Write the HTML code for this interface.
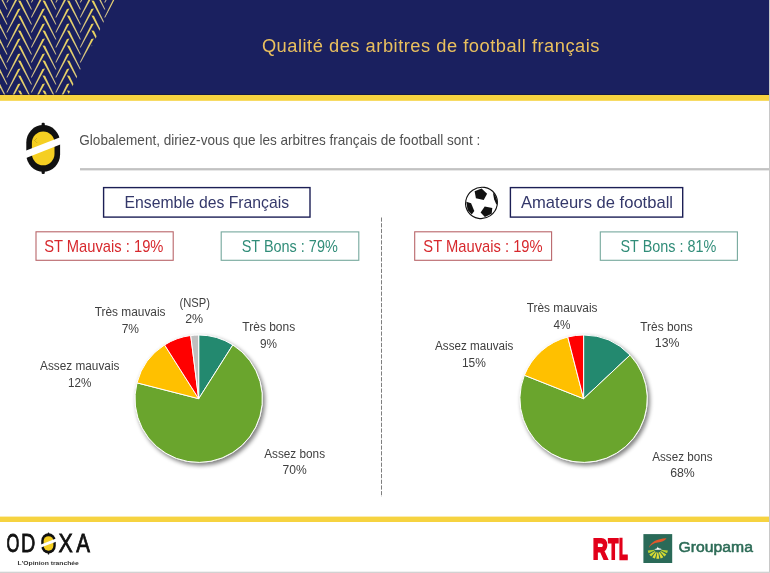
<!DOCTYPE html>
<html lang="fr"><head><meta charset="utf-8"><title>Qualité des arbitres de football français</title>
<style>html,body{margin:0;padding:0;background:#fff;overflow:hidden;}svg{display:block;}text{font-family:"Liberation Sans",sans-serif;}</style>
</head><body>
<svg width="770" height="573" viewBox="0 0 770 573">
<defs>
<clipPath id="hb"><polygon points="0,0 114.3,0 68.5,94.5 0,94.5"/></clipPath>
<filter id="sh" x="-20%" y="-20%" width="140%" height="140%"><feGaussianBlur stdDeviation="1.9"/></filter>
<linearGradient id="gs" x1="0" y1="0" x2="0" y2="1"><stop offset="0" stop-color="#ecd45a"/><stop offset="1" stop-color="#cfc092"/></linearGradient>
</defs>
<rect width="770" height="573" fill="#fff"/>
<rect x="0" y="0" width="769" height="95" fill="#1a205f"/>
<rect x="0" y="94.9" width="769" height="5.9" fill="#f6d340"/>
<rect x="0" y="94.3" width="769" height="0.7" fill="#0d1038"/>
<g clip-path="url(#hb)" fill="url(#gs)">
<polygon points="-6.40,-29.60 -3.90,-29.30 7.55,-5.60 6.55,-5.60"/>
<polygon points="-6.40,-21.10 -3.90,-21.40 -17.05,2.60 -18.05,2.60"/>
<polygon points="-6.40,-14.60 -3.90,-14.30 7.55,9.40 6.55,9.40"/>
<polygon points="-6.40,-6.10 -3.90,-6.40 -17.05,17.60 -18.05,17.60"/>
<polygon points="-6.40,0.40 -3.90,0.70 7.55,24.40 6.55,24.40"/>
<polygon points="-6.40,8.90 -3.90,8.60 -17.05,32.60 -18.05,32.60"/>
<polygon points="-6.40,15.40 -3.90,15.70 7.55,39.40 6.55,39.40"/>
<polygon points="-6.40,23.90 -3.90,23.60 -17.05,47.60 -18.05,47.60"/>
<polygon points="-6.40,30.40 -3.90,30.70 7.55,54.40 6.55,54.40"/>
<polygon points="-6.40,38.90 -3.90,38.60 -17.05,62.60 -18.05,62.60"/>
<polygon points="-6.40,45.40 -3.90,45.70 7.55,69.40 6.55,69.40"/>
<polygon points="-6.40,53.90 -3.90,53.60 -17.05,77.60 -18.05,77.60"/>
<polygon points="-6.40,60.40 -3.90,60.70 7.55,84.40 6.55,84.40"/>
<polygon points="-6.40,68.90 -3.90,68.60 -17.05,92.60 -18.05,92.60"/>
<polygon points="-6.40,75.40 -3.90,75.70 7.55,99.40 6.55,99.40"/>
<polygon points="-6.40,83.90 -3.90,83.60 -17.05,107.60 -18.05,107.60"/>
<polygon points="-6.40,90.40 -3.90,90.70 7.55,114.40 6.55,114.40"/>
<polygon points="-6.40,98.90 -3.90,98.60 -17.05,122.60 -18.05,122.60"/>
<polygon points="-6.40,105.40 -3.90,105.70 7.55,129.40 6.55,129.40"/>
<polygon points="-6.40,113.90 -3.90,113.60 -17.05,137.60 -18.05,137.60"/>
<polygon points="18.05,-29.60 20.55,-29.30 32.00,-5.60 31.00,-5.60"/>
<polygon points="18.05,-21.10 20.55,-21.40 7.40,2.60 6.40,2.60"/>
<polygon points="18.05,-14.60 20.55,-14.30 32.00,9.40 31.00,9.40"/>
<polygon points="18.05,-6.10 20.55,-6.40 7.40,17.60 6.40,17.60"/>
<polygon points="18.05,0.40 20.55,0.70 32.00,24.40 31.00,24.40"/>
<polygon points="18.05,8.90 20.55,8.60 7.40,32.60 6.40,32.60"/>
<polygon points="18.05,15.40 20.55,15.70 32.00,39.40 31.00,39.40"/>
<polygon points="18.05,23.90 20.55,23.60 7.40,47.60 6.40,47.60"/>
<polygon points="18.05,30.40 20.55,30.70 32.00,54.40 31.00,54.40"/>
<polygon points="18.05,38.90 20.55,38.60 7.40,62.60 6.40,62.60"/>
<polygon points="18.05,45.40 20.55,45.70 32.00,69.40 31.00,69.40"/>
<polygon points="18.05,53.90 20.55,53.60 7.40,77.60 6.40,77.60"/>
<polygon points="18.05,60.40 20.55,60.70 32.00,84.40 31.00,84.40"/>
<polygon points="18.05,68.90 20.55,68.60 7.40,92.60 6.40,92.60"/>
<polygon points="18.05,75.40 20.55,75.70 32.00,99.40 31.00,99.40"/>
<polygon points="18.05,83.90 20.55,83.60 7.40,107.60 6.40,107.60"/>
<polygon points="18.05,90.40 20.55,90.70 32.00,114.40 31.00,114.40"/>
<polygon points="18.05,98.90 20.55,98.60 7.40,122.60 6.40,122.60"/>
<polygon points="18.05,105.40 20.55,105.70 32.00,129.40 31.00,129.40"/>
<polygon points="18.05,113.90 20.55,113.60 7.40,137.60 6.40,137.60"/>
<polygon points="42.50,-29.60 45.00,-29.30 56.45,-5.60 55.45,-5.60"/>
<polygon points="42.50,-21.10 45.00,-21.40 31.85,2.60 30.85,2.60"/>
<polygon points="42.50,-14.60 45.00,-14.30 56.45,9.40 55.45,9.40"/>
<polygon points="42.50,-6.10 45.00,-6.40 31.85,17.60 30.85,17.60"/>
<polygon points="42.50,0.40 45.00,0.70 56.45,24.40 55.45,24.40"/>
<polygon points="42.50,8.90 45.00,8.60 31.85,32.60 30.85,32.60"/>
<polygon points="42.50,15.40 45.00,15.70 56.45,39.40 55.45,39.40"/>
<polygon points="42.50,23.90 45.00,23.60 31.85,47.60 30.85,47.60"/>
<polygon points="42.50,30.40 45.00,30.70 56.45,54.40 55.45,54.40"/>
<polygon points="42.50,38.90 45.00,38.60 31.85,62.60 30.85,62.60"/>
<polygon points="42.50,45.40 45.00,45.70 56.45,69.40 55.45,69.40"/>
<polygon points="42.50,53.90 45.00,53.60 31.85,77.60 30.85,77.60"/>
<polygon points="42.50,60.40 45.00,60.70 56.45,84.40 55.45,84.40"/>
<polygon points="42.50,68.90 45.00,68.60 31.85,92.60 30.85,92.60"/>
<polygon points="42.50,75.40 45.00,75.70 56.45,99.40 55.45,99.40"/>
<polygon points="42.50,83.90 45.00,83.60 31.85,107.60 30.85,107.60"/>
<polygon points="42.50,90.40 45.00,90.70 56.45,114.40 55.45,114.40"/>
<polygon points="42.50,98.90 45.00,98.60 31.85,122.60 30.85,122.60"/>
<polygon points="42.50,105.40 45.00,105.70 56.45,129.40 55.45,129.40"/>
<polygon points="42.50,113.90 45.00,113.60 31.85,137.60 30.85,137.60"/>
<polygon points="66.95,-29.60 69.45,-29.30 80.90,-5.60 79.90,-5.60"/>
<polygon points="66.95,-21.10 69.45,-21.40 56.30,2.60 55.30,2.60"/>
<polygon points="66.95,-14.60 69.45,-14.30 80.90,9.40 79.90,9.40"/>
<polygon points="66.95,-6.10 69.45,-6.40 56.30,17.60 55.30,17.60"/>
<polygon points="66.95,0.40 69.45,0.70 80.90,24.40 79.90,24.40"/>
<polygon points="66.95,8.90 69.45,8.60 56.30,32.60 55.30,32.60"/>
<polygon points="66.95,15.40 69.45,15.70 80.90,39.40 79.90,39.40"/>
<polygon points="66.95,23.90 69.45,23.60 56.30,47.60 55.30,47.60"/>
<polygon points="66.95,30.40 69.45,30.70 80.90,54.40 79.90,54.40"/>
<polygon points="66.95,38.90 69.45,38.60 56.30,62.60 55.30,62.60"/>
<polygon points="66.95,45.40 69.45,45.70 80.90,69.40 79.90,69.40"/>
<polygon points="66.95,53.90 69.45,53.60 56.30,77.60 55.30,77.60"/>
<polygon points="66.95,60.40 69.45,60.70 80.90,84.40 79.90,84.40"/>
<polygon points="66.95,68.90 69.45,68.60 56.30,92.60 55.30,92.60"/>
<polygon points="66.95,75.40 69.45,75.70 80.90,99.40 79.90,99.40"/>
<polygon points="66.95,83.90 69.45,83.60 56.30,107.60 55.30,107.60"/>
<polygon points="66.95,90.40 69.45,90.70 80.90,114.40 79.90,114.40"/>
<polygon points="66.95,98.90 69.45,98.60 56.30,122.60 55.30,122.60"/>
<polygon points="66.95,105.40 69.45,105.70 80.90,129.40 79.90,129.40"/>
<polygon points="66.95,113.90 69.45,113.60 56.30,137.60 55.30,137.60"/>
<polygon points="91.40,-29.60 93.90,-29.30 105.35,-5.60 104.35,-5.60"/>
<polygon points="91.40,-21.10 93.90,-21.40 80.75,2.60 79.75,2.60"/>
<polygon points="91.40,-14.60 93.90,-14.30 105.35,9.40 104.35,9.40"/>
<polygon points="91.40,-6.10 93.90,-6.40 80.75,17.60 79.75,17.60"/>
<polygon points="91.40,0.40 93.90,0.70 105.35,24.40 104.35,24.40"/>
<polygon points="91.40,8.90 93.90,8.60 80.75,32.60 79.75,32.60"/>
<polygon points="91.40,15.40 93.90,15.70 105.35,39.40 104.35,39.40"/>
<polygon points="91.40,23.90 93.90,23.60 80.75,47.60 79.75,47.60"/>
<polygon points="91.40,30.40 93.90,30.70 105.35,54.40 104.35,54.40"/>
<polygon points="91.40,38.90 93.90,38.60 80.75,62.60 79.75,62.60"/>
<polygon points="91.40,45.40 93.90,45.70 105.35,69.40 104.35,69.40"/>
<polygon points="91.40,53.90 93.90,53.60 80.75,77.60 79.75,77.60"/>
<polygon points="91.40,60.40 93.90,60.70 105.35,84.40 104.35,84.40"/>
<polygon points="91.40,68.90 93.90,68.60 80.75,92.60 79.75,92.60"/>
<polygon points="91.40,75.40 93.90,75.70 105.35,99.40 104.35,99.40"/>
<polygon points="91.40,83.90 93.90,83.60 80.75,107.60 79.75,107.60"/>
<polygon points="91.40,90.40 93.90,90.70 105.35,114.40 104.35,114.40"/>
<polygon points="91.40,98.90 93.90,98.60 80.75,122.60 79.75,122.60"/>
<polygon points="91.40,105.40 93.90,105.70 105.35,129.40 104.35,129.40"/>
<polygon points="91.40,113.90 93.90,113.60 80.75,137.60 79.75,137.60"/>
<polygon points="115.85,-29.60 118.35,-29.30 129.80,-5.60 128.80,-5.60"/>
<polygon points="115.85,-21.10 118.35,-21.40 105.20,2.60 104.20,2.60"/>
<polygon points="115.85,-14.60 118.35,-14.30 129.80,9.40 128.80,9.40"/>
<polygon points="115.85,-6.10 118.35,-6.40 105.20,17.60 104.20,17.60"/>
<polygon points="115.85,0.40 118.35,0.70 129.80,24.40 128.80,24.40"/>
<polygon points="115.85,8.90 118.35,8.60 105.20,32.60 104.20,32.60"/>
<polygon points="115.85,15.40 118.35,15.70 129.80,39.40 128.80,39.40"/>
<polygon points="115.85,23.90 118.35,23.60 105.20,47.60 104.20,47.60"/>
<polygon points="115.85,30.40 118.35,30.70 129.80,54.40 128.80,54.40"/>
<polygon points="115.85,38.90 118.35,38.60 105.20,62.60 104.20,62.60"/>
<polygon points="115.85,45.40 118.35,45.70 129.80,69.40 128.80,69.40"/>
<polygon points="115.85,53.90 118.35,53.60 105.20,77.60 104.20,77.60"/>
<polygon points="115.85,60.40 118.35,60.70 129.80,84.40 128.80,84.40"/>
<polygon points="115.85,68.90 118.35,68.60 105.20,92.60 104.20,92.60"/>
<polygon points="115.85,75.40 118.35,75.70 129.80,99.40 128.80,99.40"/>
<polygon points="115.85,83.90 118.35,83.60 105.20,107.60 104.20,107.60"/>
<polygon points="115.85,90.40 118.35,90.70 129.80,114.40 128.80,114.40"/>
<polygon points="115.85,98.90 118.35,98.60 105.20,122.60 104.20,122.60"/>
<polygon points="115.85,105.40 118.35,105.70 129.80,129.40 128.80,129.40"/>
<polygon points="115.85,113.90 118.35,113.60 105.20,137.60 104.20,137.60"/>
<polygon points="140.30,-29.60 142.80,-29.30 154.25,-5.60 153.25,-5.60"/>
<polygon points="140.30,-21.10 142.80,-21.40 129.65,2.60 128.65,2.60"/>
<polygon points="140.30,-14.60 142.80,-14.30 154.25,9.40 153.25,9.40"/>
<polygon points="140.30,-6.10 142.80,-6.40 129.65,17.60 128.65,17.60"/>
<polygon points="140.30,0.40 142.80,0.70 154.25,24.40 153.25,24.40"/>
<polygon points="140.30,8.90 142.80,8.60 129.65,32.60 128.65,32.60"/>
<polygon points="140.30,15.40 142.80,15.70 154.25,39.40 153.25,39.40"/>
<polygon points="140.30,23.90 142.80,23.60 129.65,47.60 128.65,47.60"/>
<polygon points="140.30,30.40 142.80,30.70 154.25,54.40 153.25,54.40"/>
<polygon points="140.30,38.90 142.80,38.60 129.65,62.60 128.65,62.60"/>
<polygon points="140.30,45.40 142.80,45.70 154.25,69.40 153.25,69.40"/>
<polygon points="140.30,53.90 142.80,53.60 129.65,77.60 128.65,77.60"/>
<polygon points="140.30,60.40 142.80,60.70 154.25,84.40 153.25,84.40"/>
<polygon points="140.30,68.90 142.80,68.60 129.65,92.60 128.65,92.60"/>
<polygon points="140.30,75.40 142.80,75.70 154.25,99.40 153.25,99.40"/>
<polygon points="140.30,83.90 142.80,83.60 129.65,107.60 128.65,107.60"/>
<polygon points="140.30,90.40 142.80,90.70 154.25,114.40 153.25,114.40"/>
<polygon points="140.30,98.90 142.80,98.60 129.65,122.60 128.65,122.60"/>
<polygon points="140.30,105.40 142.80,105.70 154.25,129.40 153.25,129.40"/>
<polygon points="140.30,113.90 142.80,113.60 129.65,137.60 128.65,137.60"/>
</g>
<text x="261.88" y="52.20" font-size="18.3" fill="#eac05e" textLength="337.61" lengthAdjust="spacing">Qualité des arbitres de football français</text>
<text x="79.32" y="145.00" font-size="14.3" fill="#505050" textLength="400.91" lengthAdjust="spacingAndGlyphs">Globalement, diriez-vous que les arbitres français de football sont :</text>
<rect x="80" y="168.1" width="689" height="2.3" fill="#c2c2c2"/>
<rect x="769" y="0" width="1" height="573" fill="#c8c8c8"/>
<rect x="0" y="571.7" width="770" height="1.3" fill="#d2d2d2"/>
<g transform="translate(43.2,148.4) scale(1)">
<rect x="-1.6" y="-25.6" width="3.2" height="51.2" rx="1.2" fill="#111"/>
<rect x="-16.9" y="-23.4" width="33.8" height="46.8" rx="16.9" ry="17.5" fill="#111"/>
<rect x="-11.3" y="-16.9" width="22.6" height="33.8" rx="11.3" ry="11.5" fill="#f5cf22"/>
<polygon points="-19,2.9 19,-12.0 19,-4.6 -19,10.3" fill="#fff"/>
</g>
<g fill="#7a6a18" opacity="0.75"><circle cx="36.6" cy="138.6" r="0.45"/><circle cx="34.6" cy="140.4" r="0.45"/><circle cx="36.8" cy="142.4" r="0.45"/><circle cx="35.6" cy="139.5" r="0.4"/><circle cx="35.7" cy="141.4" r="0.4"/></g>
<rect x="103.6" y="187.6" width="206.4" height="29.5" fill="#fff" stroke="#1c1f55" stroke-width="1.4"/>
<text x="124.54" y="207.80" font-size="16.1" fill="#34386a" textLength="164.48" lengthAdjust="spacingAndGlyphs">Ensemble des Français</text>
<rect x="510.4" y="187.6" width="172.30000000000007" height="29.5" fill="#fff" stroke="#1c1f55" stroke-width="1.4"/>
<text x="521.00" y="207.80" font-size="16.1" fill="#34386a" textLength="152.03" lengthAdjust="spacingAndGlyphs">Amateurs de football</text>
<rect x="36.0" y="231.8" width="137.2" height="28.5" fill="#fff" stroke="#b9666a" stroke-width="1.1"/>
<text x="44.16" y="251.80" font-size="15.9" fill="#d7282d" textLength="119.27" lengthAdjust="spacingAndGlyphs">ST Mauvais : 19%</text>
<rect x="221.2" y="231.9" width="137.60000000000002" height="28.400000000000006" fill="#fff" stroke="#76a89d" stroke-width="1.1"/>
<text x="241.68" y="251.80" font-size="15.9" fill="#318d79" textLength="96.08" lengthAdjust="spacingAndGlyphs">ST Bons : 79%</text>
<rect x="414.7" y="231.8" width="136.90000000000003" height="28.5" fill="#fff" stroke="#b9666a" stroke-width="1.1"/>
<text x="423.36" y="251.80" font-size="15.9" fill="#d7282d" textLength="119.27" lengthAdjust="spacingAndGlyphs">ST Mauvais : 19%</text>
<rect x="600.3" y="231.9" width="137.10000000000002" height="28.400000000000006" fill="#fff" stroke="#76a89d" stroke-width="1.1"/>
<text x="620.48" y="251.80" font-size="15.9" fill="#318d79" textLength="95.88" lengthAdjust="spacingAndGlyphs">ST Bons : 81%</text>
<line x1="381.5" y1="217.5" x2="381.5" y2="497" stroke="#7f7f7f" stroke-width="1" stroke-dasharray="4.2 1.5"/>
<g transform="translate(481.5,202.9)">
<ellipse rx="16.1" ry="15.5" fill="#fff" stroke="#111" stroke-width="1.1" transform="rotate(-35)"/>
<polygon points="-6.9,-11.6 0.1,-14.4 5.6,-9.2 2.2,-3.0 -5.6,-4.6" fill="#111"/>
<polygon points="-15.2,-1.2 -10.4,0.3 -7.2,8.2 -9.8,11.6 -13.9,7.0" fill="#111"/>
<polygon points="-0.9,9.6 3.2,3.6 10.8,5.0 10.2,10.8 3.4,14.0" fill="#111"/>
<polygon points="11.4,-10.2 13.6,-8.2 15.6,-2.4 16.0,1.8 14.6,1.2 12.6,-3.6" fill="#111"/>
</g>
<circle cx="200.7" cy="401.09999999999997" r="64.3" fill="#000" opacity="0.5" filter="url(#sh)"/>
<circle cx="198.7" cy="398.7" r="64.15" fill="#fff"/>
<path d="M198.7,398.7 L198.70,335.00 A63.7,63.7 0 0 1 232.83,344.92 Z" fill="#23896f" stroke="#fff" stroke-width="1" stroke-linejoin="round"/>
<path d="M198.7,398.7 L232.83,344.92 A63.7,63.7 0 1 1 137.00,382.86 Z" fill="#6aa52d" stroke="#fff" stroke-width="1" stroke-linejoin="round"/>
<path d="M198.7,398.7 L137.00,382.86 A63.7,63.7 0 0 1 164.57,344.92 Z" fill="#ffc000" stroke="#fff" stroke-width="1" stroke-linejoin="round"/>
<path d="M198.7,398.7 L164.57,344.92 A63.7,63.7 0 0 1 190.72,335.50 Z" fill="#ff0000" stroke="#fff" stroke-width="1" stroke-linejoin="round"/>
<path d="M198.7,398.7 L190.72,335.50 A63.7,63.7 0 0 1 198.70,335.00 Z" fill="#bfbfbf" stroke="#fff" stroke-width="1" stroke-linejoin="round"/>
<circle cx="585.6" cy="401.09999999999997" r="64.3" fill="#000" opacity="0.5" filter="url(#sh)"/>
<circle cx="583.6" cy="398.7" r="64.15" fill="#fff"/>
<path d="M583.6,398.7 L583.60,335.00 A63.7,63.7 0 0 1 630.04,355.09 Z" fill="#23896f" stroke="#fff" stroke-width="1" stroke-linejoin="round"/>
<path d="M583.6,398.7 L630.04,355.09 A63.7,63.7 0 1 1 524.37,375.25 Z" fill="#6aa52d" stroke="#fff" stroke-width="1" stroke-linejoin="round"/>
<path d="M583.6,398.7 L524.37,375.25 A63.7,63.7 0 0 1 567.76,337.00 Z" fill="#ffc000" stroke="#fff" stroke-width="1" stroke-linejoin="round"/>
<path d="M583.6,398.7 L567.76,337.00 A63.7,63.7 0 0 1 583.60,335.00 Z" fill="#ff0000" stroke="#fff" stroke-width="1" stroke-linejoin="round"/>
<text x="94.66" y="315.60" font-size="12" fill="#404040" textLength="70.85" lengthAdjust="spacingAndGlyphs">Très mauvais</text>
<text x="121.70" y="332.60" font-size="12" fill="#404040" textLength="17.32" lengthAdjust="spacingAndGlyphs">7%</text>
<text x="179.43" y="306.60" font-size="12" fill="#404040" textLength="30.47" lengthAdjust="spacingAndGlyphs">(NSP)</text>
<text x="185.18" y="323.10" font-size="12" fill="#404040" textLength="17.96" lengthAdjust="spacingAndGlyphs">2%</text>
<text x="242.36" y="330.50" font-size="12" fill="#404040" textLength="52.81" lengthAdjust="spacingAndGlyphs">Très bons</text>
<text x="259.91" y="347.80" font-size="12" fill="#404040" textLength="17.00" lengthAdjust="spacingAndGlyphs">9%</text>
<text x="40.10" y="369.60" font-size="12" fill="#404040" textLength="79.31" lengthAdjust="spacingAndGlyphs">Assez mauvais</text>
<text x="68.07" y="386.50" font-size="12" fill="#404040" textLength="23.30" lengthAdjust="spacingAndGlyphs">12%</text>
<text x="264.20" y="457.60" font-size="12" fill="#404040" textLength="60.87" lengthAdjust="spacingAndGlyphs">Assez bons</text>
<text x="282.50" y="474.40" font-size="12" fill="#404040" textLength="24.19" lengthAdjust="spacingAndGlyphs">70%</text>
<text x="526.76" y="311.80" font-size="12" fill="#404040" textLength="70.74" lengthAdjust="spacingAndGlyphs">Très mauvais</text>
<text x="553.57" y="328.60" font-size="12" fill="#404040" textLength="16.95" lengthAdjust="spacingAndGlyphs">4%</text>
<text x="640.26" y="330.50" font-size="12" fill="#404040" textLength="52.51" lengthAdjust="spacingAndGlyphs">Très bons</text>
<text x="654.82" y="347.40" font-size="12" fill="#404040" textLength="24.57" lengthAdjust="spacingAndGlyphs">13%</text>
<text x="435.10" y="349.90" font-size="12" fill="#404040" textLength="78.30" lengthAdjust="spacingAndGlyphs">Assez mauvais</text>
<text x="461.94" y="366.80" font-size="12" fill="#404040" textLength="23.93" lengthAdjust="spacingAndGlyphs">15%</text>
<text x="652.30" y="460.50" font-size="12" fill="#404040" textLength="60.16" lengthAdjust="spacingAndGlyphs">Assez bons</text>
<text x="670.19" y="477.20" font-size="12" fill="#404040" textLength="24.60" lengthAdjust="spacingAndGlyphs">68%</text>
<rect x="0" y="516.6" width="769" height="5.4" fill="#f6d340"/>
<text transform="translate(6.41,552.15) scale(0.6504,1)" font-size="25.36" font-weight="normal" fill="#111" stroke="#111" stroke-width="0.7" stroke-linejoin="miter" vector-effect="non-scaling-stroke">O</text>
<text transform="translate(21.06,552.15) scale(0.7819,1)" font-size="25.36" font-weight="normal" fill="#111" stroke="#111" stroke-width="0.7" stroke-linejoin="miter" vector-effect="non-scaling-stroke">D</text>
<text transform="translate(58.51,552.15) scale(0.8458,1)" font-size="25.36" font-weight="normal" fill="#111" stroke="#111" stroke-width="0.7" stroke-linejoin="miter" vector-effect="non-scaling-stroke">X</text>
<text transform="translate(76.25,552.15) scale(0.8125,1)" font-size="25.36" font-weight="normal" fill="#111" stroke="#111" stroke-width="0.7" stroke-linejoin="miter" vector-effect="non-scaling-stroke">A</text>
<g transform="translate(48.5,543.4) scale(0.43)">
<rect x="-1.6" y="-25.6" width="3.2" height="51.2" rx="1.2" fill="#111"/>
<rect x="-16.9" y="-23.4" width="33.8" height="46.8" rx="16.9" ry="17.5" fill="#111"/>
<rect x="-11.3" y="-16.9" width="22.6" height="33.8" rx="11.3" ry="11.5" fill="#f5cf22"/>
<polygon points="-19,2.9 19,-12.0 19,-4.6 -19,10.3" fill="#fff"/>
</g>
<text x="17.53" y="564.80" font-size="6.0" fill="#333" font-weight="bold" textLength="61.29" lengthAdjust="spacingAndGlyphs">L'Opinion tranchée</text>
<text transform="translate(592.85,559.40) scale(0.6863,1)" font-size="30.29" font-weight="bold" fill="#e2001a" stroke="#e2001a" stroke-width="1.8" stroke-linejoin="miter" vector-effect="non-scaling-stroke">R</text>
<text transform="translate(608.14,559.40) scale(0.5428,1)" font-size="30.29" font-weight="bold" fill="#e2001a" stroke="#e2001a" stroke-width="1.8" stroke-linejoin="miter" vector-effect="non-scaling-stroke">T</text>
<text transform="translate(618.88,559.40) scale(0.4680,1)" font-size="30.29" font-weight="bold" fill="#e2001a" stroke="#e2001a" stroke-width="1.8" stroke-linejoin="miter" vector-effect="non-scaling-stroke">L</text>
<g transform="translate(643.4,534.1)">
<rect width="28.8" height="28.9" fill="#2a6a58"/>
<path d="M5.3,13.8 C7.5,8.2 13,4.6 23.2,4.2 C21.5,6.6 18,8.2 14.5,8.4 C10.5,8.8 7.5,10.6 5.3,13.8 Z" fill="#e4572a"/>
<path d="M17.96,15.54 L24.47,16.52 A10.2,9.7 0 0 1 23.62,19.14 L17.66,16.46 Z" fill="#b9cf30"/>
<path d="M17.41,16.88 L22.93,20.32 A10.2,9.7 0 0 1 21.01,22.38 L16.73,17.60 Z" fill="#cfd831"/>
<path d="M16.33,17.89 L19.87,23.18 A10.2,9.7 0 0 1 17.24,24.31 L15.40,18.29 Z" fill="#e0dd35"/>
<path d="M14.91,18.39 L15.84,24.59 A10.2,9.7 0 0 1 12.96,24.59 L13.89,18.39 Z" fill="#e6df38"/>
<path d="M13.40,18.29 L11.56,24.31 A10.2,9.7 0 0 1 8.93,23.18 L12.47,17.89 Z" fill="#e0dd35"/>
<path d="M12.07,17.60 L7.79,22.38 A10.2,9.7 0 0 1 5.87,20.32 L11.39,16.88 Z" fill="#cfd831"/>
<path d="M11.14,16.46 L5.18,19.14 A10.2,9.7 0 0 1 4.33,16.52 L10.84,15.54 Z" fill="#b9cf30"/>
<path d="M10.9,15.4 Q11.4,14.5 12.8,14.6 L13.8,13.9 L14.4,12.5 L15,14.0 L16.4,14.3 Q18.0,14.3 18.3,15.4 Q14.6,16.0 10.9,15.4 Z" fill="#fff"/>
</g>
<text x="678.61" y="551.50" font-size="13.8" fill="#2c6b56" stroke="#2c6b56" stroke-width="0.5" stroke-linejoin="round" textLength="74.26" lengthAdjust="spacingAndGlyphs">Groupama</text>
</svg></body></html>
